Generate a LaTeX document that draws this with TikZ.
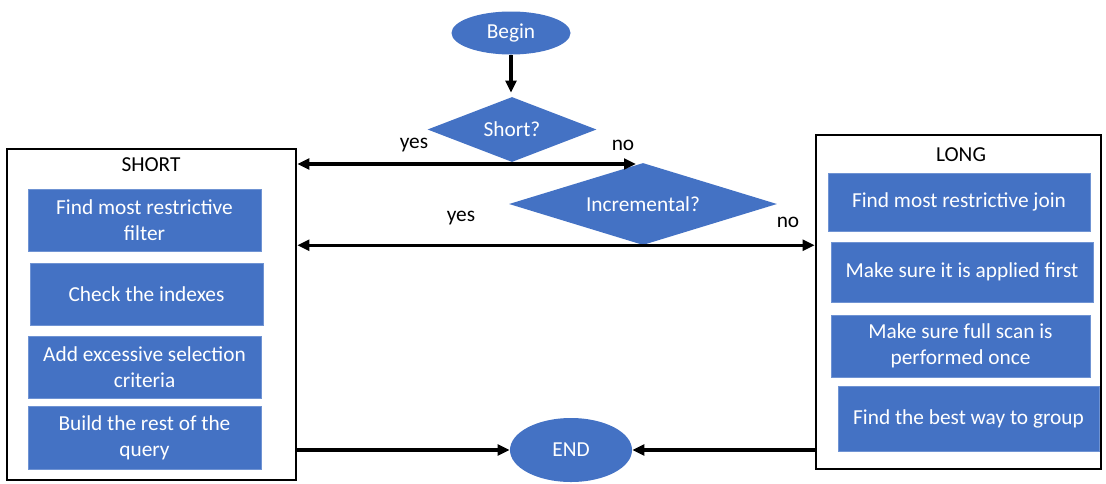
\documentclass[tikz,border=0pt]{standalone}
\usepackage{fontspec}
\setmainfont{Carlito}
\usetikzlibrary{shapes.geometric,arrows.meta}
\definecolor{fillblue}{HTML}{4472C4}
\definecolor{edgeblue}{HTML}{6F93D3}
\begin{document}
\begin{tikzpicture}[x=0.75pt,y=-0.75pt,
  every node/.style={font=\fontsize{16}{19.5}\selectfont},
  terminal/.style={ellipse, fill=fillblue, text=white, inner sep=0pt},
  decision/.style={diamond, fill=fillblue, text=white, inner sep=0pt},
  task/.style={rectangle, fill=fillblue, draw=edgeblue, line width=0.6pt,
    text=white, align=center, inner sep=0pt},
  group/.style={rectangle, draw=black, line width=2pt, inner sep=0pt},
  tip/.tip={Triangle[length=9pt,width=8pt]},
  flow/.style={line width=2.3pt, -tip},
  twoway/.style={line width=2.3pt, tip-tip},
  lbl/.style={text=black}]
\useasboundingbox (0,0) rectangle (1106,483);

% start / decisions
\node[terminal, minimum width=89.25pt, minimum height=32.25pt] (begin) at (511,33) {Begin};
\node[decision, aspect=2.6, minimum width=126.75pt, minimum height=48.75pt] (short) at (512,129.5) {Short?};
\node[decision, aspect=3.3, minimum width=201pt, minimum height=61.5pt] (incr) at (643,204) {Incremental?};

% group frames
\node[group, minimum width=216.75pt, minimum height=248.25pt] (shortbox) at (151.5,314.5) {};
\node[group, minimum width=213.75pt, minimum height=250.5pt] (longbox) at (958.5,302) {};
\node[lbl] (shorttitle) at (151,165) {SHORT};
\node[lbl] (longtitle) at (961,155) {LONG};

% short-query steps
\node[task, minimum width=174.75pt, minimum height=46.5pt] (s1) at (144.5,220) {Find most restrictive\\filter};
\node[task, minimum width=174.75pt, minimum height=46.5pt] (s2) at (146.5,294) {Check the indexes};
\node[task, minimum width=174.75pt, minimum height=46.5pt] (s3) at (144.5,367) {Add excessive selection\\criteria};
\node[task, minimum width=174.75pt, minimum height=47.25pt] (s4) at (144.5,437.5) {Build the rest of the\\query};

% long-query steps
\node[task, minimum width=196.5pt, minimum height=43.5pt] (l1) at (959,202) {Find most restrictive join};
\node[task, minimum width=196.5pt, minimum height=45pt] (l2) at (962,272) {Make sure it is applied first};
\node[task, minimum width=194.25pt, minimum height=46.5pt] (l3) at (960.5,346) {Make sure full scan is\\performed once};
\node[task, minimum width=195.75pt, minimum height=48.75pt] (l4) at (968.5,418.5) {Find the best way to group};

% end
\node[terminal, minimum width=91.5pt, minimum height=48pt] (endn) at (571,450) {END};

% branch labels
\node[lbl] (yes1) at (414,145) {yes};
\node[lbl] (no1) at (623,145) {no};
\node[lbl] (yes2) at (461,218) {yes};
\node[lbl] (no2) at (788,222) {no};

% connectors
\coordinate (noend) at (636,164);
\draw[flow, shorten >=3pt] (begin.south) -- (begin.south |- short.north);
\draw[twoway] (shortbox.east |- noend) -- (noend);
\draw[twoway] (shortbox.east |- incr.south) -- (longbox.west |- incr.south);
\draw[flow] (shortbox.east |- endn) -- (endn.west);
\draw[flow] (longbox.west |- endn) -- (endn.east);
\end{tikzpicture}
\end{document}
